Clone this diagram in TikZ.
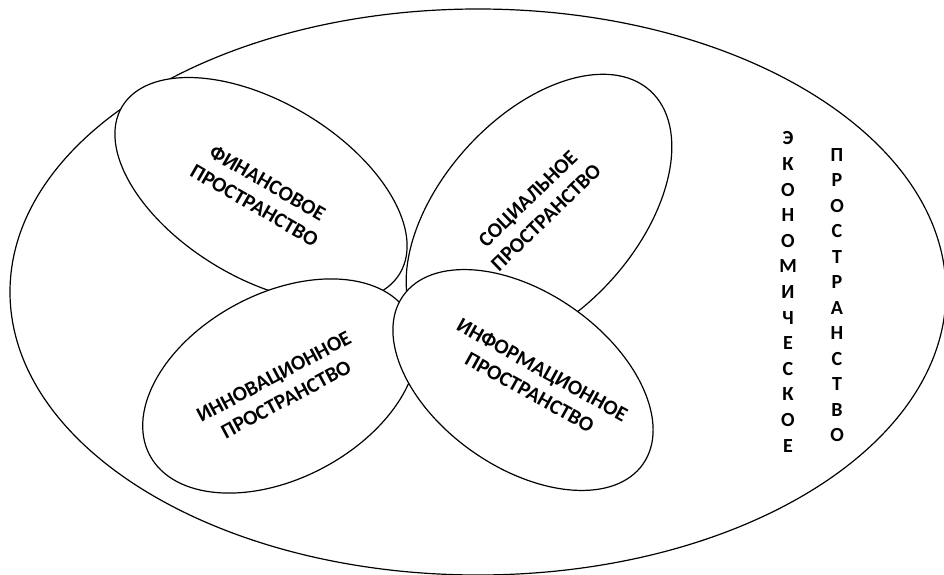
\documentclass[tikz,border=0pt]{standalone}
\usepackage{fontspec}
\setmainfont{Carlito}
\usetikzlibrary{shapes.geometric}
\begin{document}
\begin{tikzpicture}[x=1pt, y=1pt, line width=1.2pt,
  main/.style = {draw, ellipse, fill=white, inner sep=0pt},
  txt/.style = {font=\bfseries\fontsize{21}{26}\selectfont, align=center, inner sep=0pt}]
\useasboundingbox (0,0) rectangle (944,574);

\node[main, minimum width=936pt, minimum height=566pt] (0) at (478,282) {};

\node[main, minimum width=324pt, minimum height=176pt, rotate=-31] (1) at (261,384) {};
\node[txt, rotate=-30] (t1) at (261,380) {ФИНАНСОВОЕ\\ПРОСТРАНСТВО};

\node[main, minimum width=332pt, minimum height=196pt, rotate=48] (2) at (539,360) {};
\node[txt, rotate=44] (t2) at (537,366) {СОЦИАЛЬНОЕ\\ПРОСТРАНСТВО};

\node[main, minimum width=295pt, minimum height=185pt, rotate=28] (3) at (280,188) {};
\node[txt, rotate=28] (t3) at (280,186) {ИННОВАЦИОННОЕ\\ПРОСТРАНСТВО};

\node[main, minimum width=293pt, minimum height=175pt, rotate=-35] (4) at (523,194) {};
\node[txt, rotate=-29] (t4) at (536,193) {ИНФОРМАЦИОННОЕ\\ПРОСТРАНСТВО};

% vertical words
\node[txt, font=\bfseries\fontsize{20}{25.6}\selectfont] (5) at (788,282)
  {Э\\К\\О\\Н\\О\\М\\И\\Ч\\Е\\С\\К\\О\\Е};
\node[txt, font=\bfseries\fontsize{20}{25.5}\selectfont] (6) at (837,279)
  {П\\Р\\О\\С\\Т\\Р\\А\\Н\\С\\Т\\В\\О};

\end{tikzpicture}
\end{document}
